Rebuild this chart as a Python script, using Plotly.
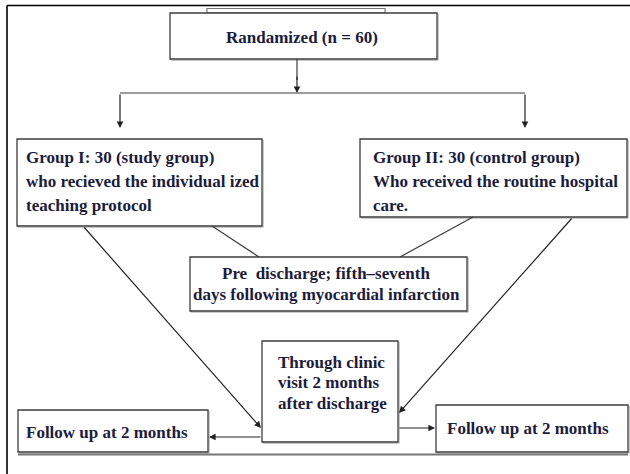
import plotly.graph_objects as go

# ---- content (node labels) ----
node_names = ["rand", "g1", "g2", "pre", "clinic", "fu_left", "fu_right"]
node_lines = [
    ["Randamized (n = 60)"],
    ["Group I: 30 (study group)", "who recieved the individual ized", "teaching protocol"],
    ["Group II: 30 (control group)", "Who received the routine hospital", "care."],
    ["Pre  discharge; fifth\u2013seventh", "days following myocardial infarction"],
    ["Through clinic", "visit 2 months", "after discharge"],
    ["Follow up at 2 months"],
    ["Follow up at 2 months"],
]

# ---- geometry (pixel-space layout of the flowchart) ----
box_x0 = [170, 17, 360, 190, 262, 18, 436]
box_x1 = [437, 262, 627, 467, 398, 208, 628]
box_y0 = [13, 139, 139, 257, 341, 410, 405]
box_y1 = [59, 226, 217, 311, 442, 452, 452]

text_x = [302, 24, 371, 326, 276, 24, 445]
text_y0 = [37, 157, 157, 273, 362, 432, 428]
line_gap = [0, 24, 24, 21, 20.5, 0, 0]
text_anchor = ["center", "left", "left", "center", "left", "left", "left"]

# plain connector lines (x0, y0, x1, y1)
plain_lines = [
    (297, 59, 297, 80),
    (120, 93, 525, 93),
    (212, 226, 259, 257),
    (473, 217, 400, 257),
]
# arrows (tail x, tail y, head x, head y)
arrows = [
    (297, 75, 297, 93),
    (120, 93, 120, 128),
    (525, 93, 525, 128),
    (83, 226, 261, 428),
    (573, 217, 399, 413),
    (262, 437, 209, 437),
    (398, 428, 435, 428),
]

TEXT_COLOR = "#1c1c3c"
BOX_COLOR = "#3c3c3c"
FONT = "Liberation Serif, Times New Roman, serif"

fig = go.Figure()
fig.add_trace(go.Scatter(x=[0, 630], y=[0, 474], mode="markers",
                         marker=dict(opacity=0), hoverinfo="skip", showlegend=False))

shapes = []
# outer frame (top and left)
shapes.append(dict(type="line", x0=7, y0=5.5, x1=630, y1=5.5, line=dict(color="black", width=1.6)))
shapes.append(dict(type="line", x0=7, y0=5.5, x1=7, y1=474, line=dict(color="black", width=1.6)))
# small tab above randomized box
shapes.append(dict(type="rect", x0=207, y0=8.5, x1=385, y1=13, line=dict(color="#777", width=1.2)))
# bottom rule
shapes.append(dict(type="line", x0=18, y0=454.5, x1=628, y1=454.5, line=dict(color="#777", width=2)))

for i in range(len(node_names)):
    shapes.append(dict(type="rect", x0=box_x0[i] + 1.2, y0=box_y0[i] + 1.2,
                       x1=box_x1[i] + 1.2, y1=box_y1[i] + 1.2,
                       line=dict(color="#b0b0b0", width=1), layer="below"))
    shapes.append(dict(type="rect", x0=box_x0[i], y0=box_y0[i], x1=box_x1[i], y1=box_y1[i],
                       line=dict(color=BOX_COLOR, width=1.3), fillcolor="white"))

for (x0, y0, x1, y1) in plain_lines:
    shapes.append(dict(type="line", x0=x0, y0=y0, x1=x1, y1=y1,
                       line=dict(color=BOX_COLOR, width=1.2)))

annotations = []
for (tx, ty, hx, hy) in arrows:
    annotations.append(dict(x=hx, y=hy, ax=tx, ay=ty, xref="x", yref="y", axref="x", ayref="y",
                            text="", showarrow=True, arrowhead=2, arrowsize=1.1,
                            arrowwidth=1.2, arrowcolor="#222"))

for i in range(len(node_names)):
    for j, t in enumerate(node_lines[i]):
        annotations.append(dict(x=text_x[i], y=text_y0[i] + j * line_gap[i], xref="x", yref="y",
                                text="<b>" + t + "</b>", showarrow=False,
                                xanchor=text_anchor[i], yanchor="middle",
                                font=dict(family=FONT, size=17, color=TEXT_COLOR)))

fig.update_layout(
    width=630, height=474,
    margin=dict(l=0, r=0, t=0, b=0),
    paper_bgcolor="white", plot_bgcolor="white",
    xaxis=dict(range=[0, 630], visible=False, fixedrange=True),
    yaxis=dict(range=[474, 0], visible=False, fixedrange=True),
    shapes=shapes, annotations=annotations, showlegend=False,
)
fig.write_html("out.html",
               config=dict(displayModeBar=False, staticPlot=True),
               post_script="document.body.style.margin='0px';document.body.style.overflow='hidden';")
